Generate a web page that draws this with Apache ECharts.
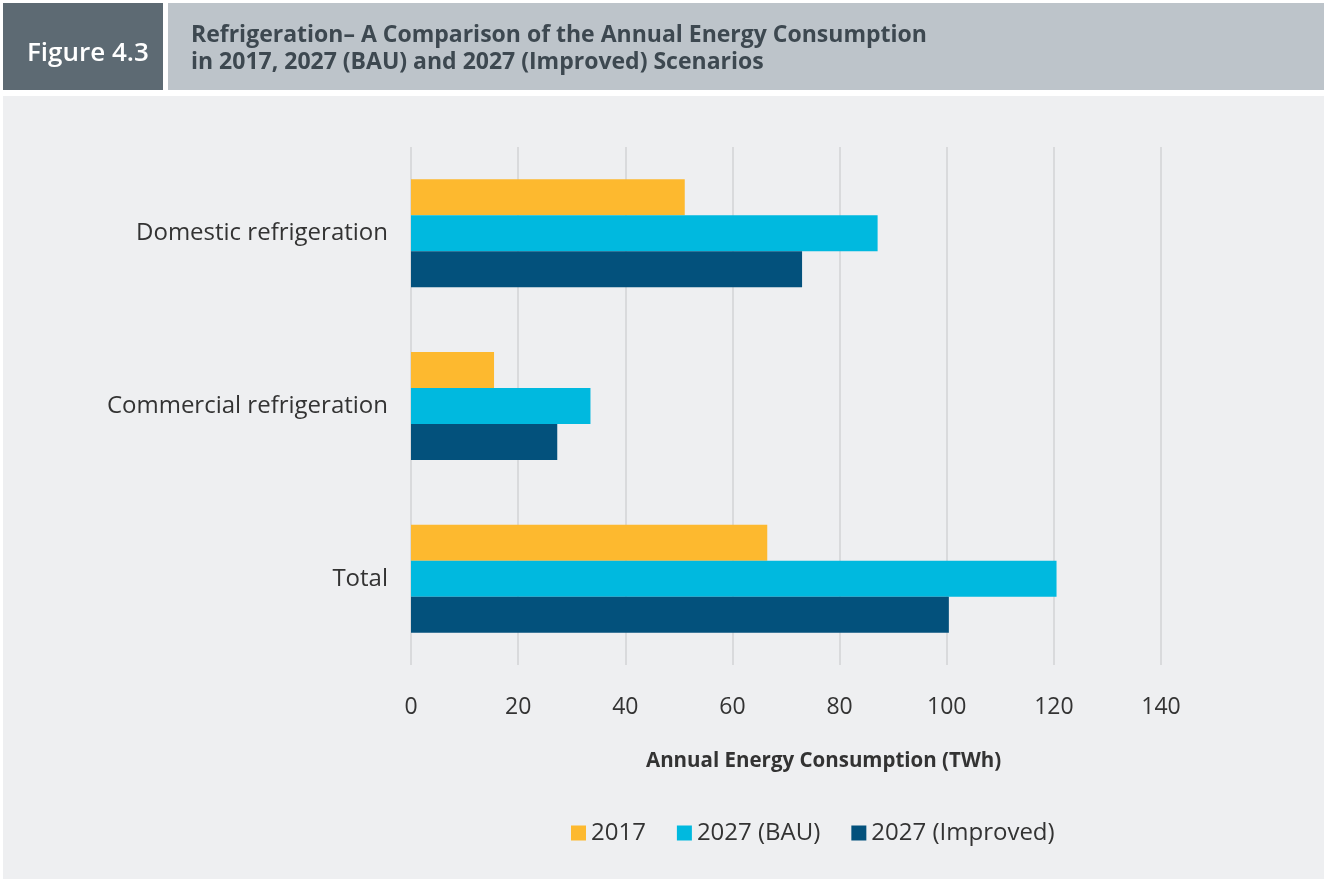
<!DOCTYPE html>
<html>
<head>
<meta charset="utf-8">
<script src="https://cdn.jsdelivr.net/npm/echarts@6/dist/echarts.min.js"></script>
<style>
  html, body { margin: 0; padding: 0; background: #ffffff; }
  #chart_refrig { width: 1324px; height: 881px; }
</style>
</head>
<body>
<div id="chart_refrig"></div>
<script>
// data
const categories = ['Domestic refrigeration', 'Commercial refrigeration', 'Total'];
const seriesNames = ['2017', '2027 (BAU)', '2027 (Improved)'];
const values2017 = [51.1, 15.5, 66.5];
const valuesBau = [87.1, 33.5, 120.5];
const valuesImproved = [73.0, 27.3, 100.4];
const xTicks = [0, 20, 40, 60, 80, 100, 120, 140];

const colors = ['#fdb92f', '#00b9df', '#03517c'];
const font = '"Open Sans", "Noto Sans", sans-serif';

let chart = echarts.init(document.getElementById('chart_refrig'));

let option = {
  animation: false,
  textStyle: { fontFamily: font },
  graphic: [
    // chart area background
    { type: 'rect', z: -10, shape: { x: 3, y: 96, width: 1321, height: 783 }, style: { fill: '#eeeff1' } },
    // header boxes
    { type: 'rect', shape: { x: 3, y: 3, width: 160, height: 87 }, style: { fill: '#5d6a73' } },
    { type: 'rect', shape: { x: 168, y: 3, width: 1156, height: 87 }, style: { fill: '#bdc4ca' } },
    {
      type: 'text', left: 27, top: 41,
      style: { text: 'Figure 4.3', fill: '#ffffff', font: '600 26px ' + font }
    },
    {
      type: 'text', left: 191, top: 22,
      style: {
        text: 'Refrigeration– A Comparison of the Annual Energy Consumption\nin 2017, 2027 (BAU) and 2027 (Improved) Scenarios',
        fill: '#3d4850', font: 'bold 23px ' + font, lineHeight: 27
      }
    },
    {
      type: 'text', left: 646, top: 751,
      style: { text: 'Annual Energy Consumption (TWh)', fill: '#333333', font: 'bold 20.5px ' + font }
    }
  ],
  grid: { left: 411, right: 163, top: 147, height: 518 },
  legend: {
    data: seriesNames,
    left: 566,
    top: 816,
    itemWidth: 15,
    itemHeight: 15,
    itemGap: 31,
    icon: 'rect',
    textStyle: { fontSize: 24, color: '#333333', fontFamily: font }
  },
  xAxis: {
    type: 'value',
    min: xTicks[0],
    max: xTicks[xTicks.length - 1],
    interval: 20,
    axisLine: { show: false },
    axisTick: { show: false },
    axisLabel: { fontSize: 23, color: '#333333', margin: 31 },
    splitLine: { show: true, lineStyle: { color: '#d9dadc', width: 2 } }
  },
  yAxis: {
    type: 'category',
    data: categories,
    inverse: true,
    axisLine: { show: false },
    axisTick: { show: false },
    axisLabel: { fontSize: 24, color: '#333333', margin: 23 }
  },
  series: [
    { name: seriesNames[0], type: 'bar', data: values2017, barWidth: 36, barGap: '0%', itemStyle: { color: colors[0] } },
    { name: seriesNames[1], type: 'bar', data: valuesBau, barWidth: 36, barGap: '0%', itemStyle: { color: colors[1] } },
    { name: seriesNames[2], type: 'bar', data: valuesImproved, barWidth: 36, barGap: '0%', itemStyle: { color: colors[2] } }
  ]
};

chart.setOption(option);
</script>
</body>
</html>
